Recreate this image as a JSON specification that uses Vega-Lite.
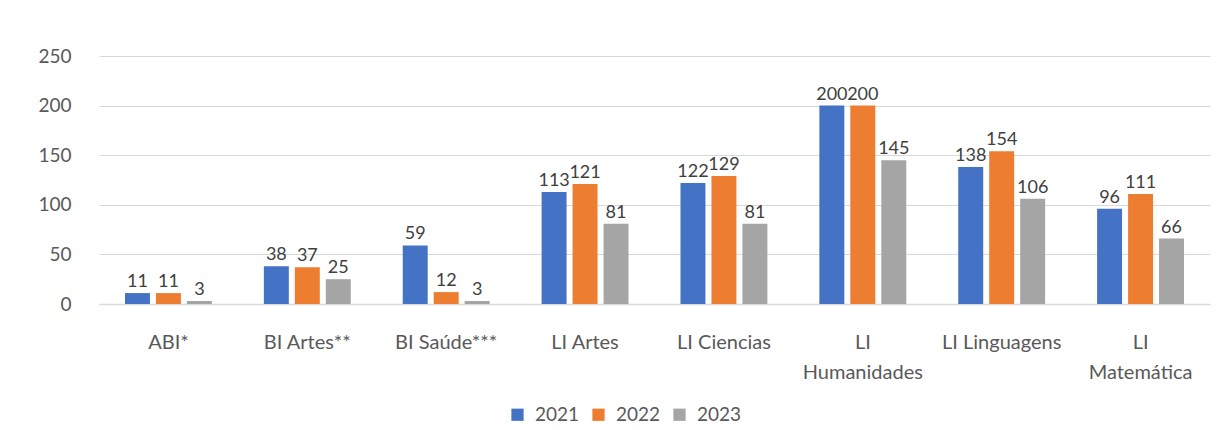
{
  "$schema": "https://vega.github.io/schema/vega-lite/v6.json",
  "autosize": "none",
  "width": 1111,
  "height": 248,
  "padding": {"left": 99, "top": 56, "right": 13, "bottom": 126},
  "background": "white",
  "config": {
    "font": "Lato",
    "view": {"stroke": null},
    "axis": {"labelFont": "Lato", "labelColor": "#595959"}
  },
  "data": {
    "values": [
      {"curso": "ABI*", "ano": "2021", "valor": 11},
      {"curso": "ABI*", "ano": "2022", "valor": 11},
      {"curso": "ABI*", "ano": "2023", "valor": 3},
      {"curso": "BI Artes**", "ano": "2021", "valor": 38},
      {"curso": "BI Artes**", "ano": "2022", "valor": 37},
      {"curso": "BI Artes**", "ano": "2023", "valor": 25},
      {"curso": "BI Saúde***", "ano": "2021", "valor": 59},
      {"curso": "BI Saúde***", "ano": "2022", "valor": 12},
      {"curso": "BI Saúde***", "ano": "2023", "valor": 3},
      {"curso": "LI Artes", "ano": "2021", "valor": 113},
      {"curso": "LI Artes", "ano": "2022", "valor": 121},
      {"curso": "LI Artes", "ano": "2023", "valor": 81},
      {"curso": "LI Ciencias", "ano": "2021", "valor": 122},
      {"curso": "LI Ciencias", "ano": "2022", "valor": 129},
      {"curso": "LI Ciencias", "ano": "2023", "valor": 81},
      {"curso": "LI Humanidades", "ano": "2021", "valor": 200},
      {"curso": "LI Humanidades", "ano": "2022", "valor": 200},
      {"curso": "LI Humanidades", "ano": "2023", "valor": 145},
      {"curso": "LI Linguagens", "ano": "2021", "valor": 138},
      {"curso": "LI Linguagens", "ano": "2022", "valor": 154},
      {"curso": "LI Linguagens", "ano": "2023", "valor": 106},
      {"curso": "LI Matemática", "ano": "2021", "valor": 96},
      {"curso": "LI Matemática", "ano": "2022", "valor": 111},
      {"curso": "LI Matemática", "ano": "2023", "valor": 66}
    ]
  },
  "encoding": {
    "x": {
      "field": "curso",
      "type": "nominal",
      "sort": null,
      "scale": {"paddingInner": 0, "paddingOuter": 0},
      "axis": {
        "title": null,
        "labelAngle": 0,
        "ticks": false,
        "domainColor": "#d9d9d9",
        "domainWidth": 1.5,
        "labelFontSize": 20,
        "labelPadding": 28,
        "labelLineHeight": 30,
        "labelExpr": "datum.label == 'LI Humanidades' ? ['LI', 'Humanidades'] : datum.label == 'LI Matemática' ? ['LI', 'Matemática'] : datum.label"
      }
    },
    "xOffset": {
      "field": "ano",
      "type": "nominal",
      "scale": {"paddingInner": 0.194, "paddingOuter": 0.839}
    },
    "y": {
      "field": "valor",
      "type": "quantitative",
      "scale": {"domain": [0, 250], "nice": false},
      "axis": {
        "title": null,
        "values": [0, 50, 100, 150, 200, 250],
        "ticks": false,
        "domain": false,
        "gridColor": "#d9d9d9",
        "gridWidth": 1.2,
        "labelFontSize": 19,
        "labelPadding": 28
      }
    }
  },
  "layer": [
    {
      "mark": {"type": "bar"},
      "encoding": {
        "color": {
          "field": "ano",
          "type": "nominal",
          "scale": {"domain": ["2021", "2022", "2023"], "range": ["#4472C4", "#ED7D31", "#A5A5A5"]},
          "legend": {
            "title": null,
            "orient": "none",
            "direction": "horizontal",
            "legendX": 409,
            "legendY": 349,
            "symbolType": "square",
            "symbolSize": 150,
            "symbolStrokeWidth": 0,
            "labelFontSize": 19,
            "labelColor": "#595959",
            "labelFont": "Lato",
            "columnPadding": 9,
            "labelOffset": 8
          }
        }
      }
    },
    {
      "mark": {"type": "text", "baseline": "alphabetic", "dy": -6, "fontSize": 18, "color": "#404040", "font": "Lato"},
      "encoding": {"text": {"field": "valor", "type": "quantitative"}}
    }
  ]
}
